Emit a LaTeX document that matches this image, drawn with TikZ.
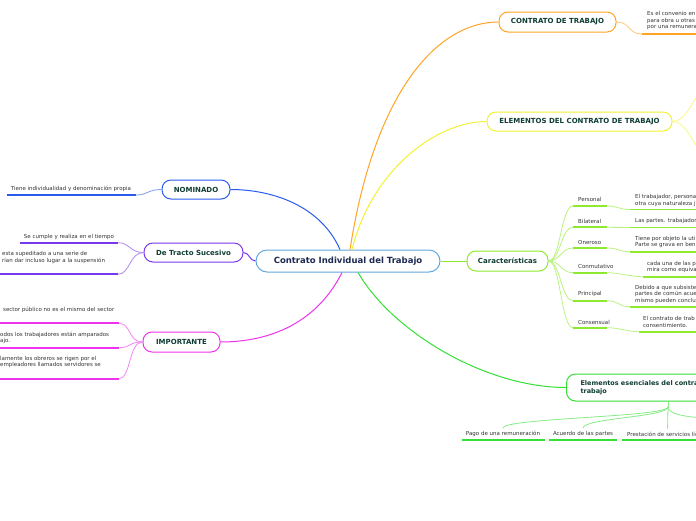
\documentclass[tikz,border=0pt]{standalone}
\usepackage{fontspec}
\setmainfont{DejaVu Sans}
\definecolor{cblue}{HTML}{62A8DE}
\definecolor{ink}{HTML}{1C2A52}
\definecolor{tgreen}{HTML}{0F3D33}
\definecolor{corange}{HTML}{FFA424}
\definecolor{cyellow}{HTML}{F2F235}
\definecolor{clime}{HTML}{8EEA2E}
\definecolor{cgreen}{HTML}{33E033}
\definecolor{cnavy}{HTML}{2A5BEE}
\definecolor{cpurple}{HTML}{7A38EE}
\definecolor{cpink}{HTML}{EE33EE}
\definecolor{leaf}{HTML}{333333}

\begin{document}
\begin{tikzpicture}[x=1pt,y=-1pt,
 m/.style={draw=#1,line width=1pt,fill=white,rounded corners=9pt,minimum height=19pt,text=tgreen,font=\fontsize{7}{8}\selectfont\bfseries},
 t/.style={text=leaf,font=\fontsize{5.5}{6.5}\selectfont,align=left,inner sep=0pt},
 u/.style={draw=#1,line width=1.7pt},
 c/.style={draw=#1,line width=1pt},
 l/.style={draw=#1!60,line width=0.8pt}]
\useasboundingbox (0,0) rectangle (696,520);
\clip (0,0) rectangle (696,520);
% main topics
\node[m=cblue,minimum width=184pt,minimum height=22pt,rounded corners=11pt,text=ink,font=\fontsize{8.5}{10}\selectfont\bfseries] (main) at (348,261) {Contrato Individual del Trabajo};
\node[m=corange,minimum width=117pt,minimum height=20pt] (ct) at (557.5,22) {CONTRATO DE TRABAJO};
\node[m=cyellow,minimum width=185pt] (el) at (579.5,121.5) {ELEMENTOS DEL CONTRATO DE TRABAJO};
\node[m=clime,minimum width=81pt,minimum height=20pt] (car) at (507.5,261) {Características};
\node[m=cgreen,anchor=west,minimum height=27pt,align=left,text width=150pt,inner xsep=14pt,font=\fontsize{6.5}{8}\selectfont\bfseries] (ee) at (566,387.5) {Elementos esenciales del contrato de\\trabajo};
\node[m=cnavy,minimum width=68pt] (nom) at (196,189.5) {NOMINADO};
\node[m=cpurple,minimum width=99pt] (dts) at (193.5,252.5) {De Tracto Sucesivo};
\node[m=cpink,minimum width=77pt,minimum height=20pt] (imp) at (181.5,342) {IMPORTANTE};
\draw[c=cnavy] ([xshift=-8pt]main.north) .. controls +(-20,-45) and +(40,0) .. (nom.east);
\draw[c=corange] ([xshift=2pt]main.north) .. controls +(25,-160) and +(-60,0) .. (ct.west);
\draw[c=cyellow] ([xshift=4pt]main.north) .. controls +(20,-80) and +(-50,0) .. (el.west);
\draw[c=cgreen] ([xshift=10pt]main.south) .. controls +(35,60) and +(-80,0) .. (ee.west);
\draw[c=cpink] ([xshift=-6pt]main.south) .. controls +(-25,50) and +(50,0) .. (imp.east);
\draw[c=cpurple] (main.west) .. controls +(-6,0) and +(6,0) .. (dts.east);
\draw[c=clime] (main.east) -- (car.west);
% NOMINADO
\node[t] (nom1) at (71,189) {Tiene individualidad y denominación propia};
\draw[u=cnavy] (7,195) -- (136,195) coordinate (nom1u);
\draw[l=cnavy] (nom.west) .. controls +(-14,0) and +(12,0) .. (nom1u);
% De Tracto Sucesivo
\node[t] (dts1) at (69,237.3) {Se cumple y realiza en el tiempo};
\draw[u=cpurple] (20,242.7) -- (118,242.7) coordinate (dts1u);
\node[t,anchor=west] (dts2) at (2,257.5) {esta supeditado a una serie de\\rían dar incluso lugar a la suspensión};
\draw[u=cpurple] (-5,274.3) -- (118,274.3) coordinate (dts2u);
\draw[l=cpurple] (dts.west) .. controls +(-14,0) and +(12,0) .. (dts1u);
\draw[l=cpurple] (dts.west) .. controls +(-14,0) and +(12,0) .. (dts2u);
% IMPORTANTE
\node[t,anchor=west] (imp1) at (3,310) {sector público no es el mismo del sector};
\draw[u=cpink] (-5,323.3) -- (119,323.3) coordinate (imp1u);
\node[t,anchor=west] (imp2) at (0,338) {odos los trabajadores están amparados\\ajo.};
\draw[u=cpink] (-5,347.7) -- (119,347.7) coordinate (imp2u);
\node[t,anchor=west] (imp3) at (0,362.2) {lamente los obreros se rigen por el\\ empleadores llamados servidores se};
\draw[u=cpink] (-5,378.7) -- (119,378.7) coordinate (imp3u);
\draw[l=cpink] (imp.west) .. controls +(-14,0) and +(12,0) .. (imp1u);
\draw[l=cpink] (imp.west) .. controls +(-14,0) and +(12,0) .. (imp2u);
\draw[l=cpink] (imp.west) .. controls +(-14,0) and +(12,0) .. (imp3u);
% CONTRATO DE TRABAJO
\node[t,anchor=west] (ct1) at (647,20.7) {Es el convenio en\\para obra u otras a\\por una remunera};
\draw[u=corange] (642,34) coordinate (ct1u) -- (712,34);
\draw[l=corange] (ct.east) .. controls +(14,0) and +(-14,0) .. (ct1u);
% ELEMENTOS DEL CONTRATO
\coordinate (el1) at (712,86); \coordinate (el2) at (712,157);
\draw[l=cyellow] (el.east) .. controls +(18,0) and +(-18,0) .. (el1);
\draw[l=cyellow] (el.east) .. controls +(18,0) and +(-18,0) .. (el2);
% Caracteristicas
\node[t,anchor=west] (p1) at (578,199) {Personal};
\draw[u=clime] (573,206) coordinate (p1a) -- (607,206) coordinate (p1b);
\node[t,anchor=west] (q1) at (635,200.5) {El trabajador, persona\\otra cuya naturaleza j};
\draw[u=clime] (630,209.5) coordinate (q1a) -- (712,209.5);
\node[t,anchor=west] (p2) at (578,221) {Bilateral};
\draw[u=clime] (573,227.3) coordinate (p2a) -- (607,227.3) coordinate (p2b);
\node[t,anchor=west] (q2) at (635,221) {Las partes. trabajador};
\draw[u=clime] (630,227.5) coordinate (q2a) -- (712,227.5);
\node[t,anchor=west] (p3) at (578,242) {Oneroso};
\draw[u=clime] (573,248) coordinate (p3a) -- (607,248) coordinate (p3b);
\node[t,anchor=west] (q3) at (635,242.2) {Tiene por objeto la uti\\Parte se grava en ben};
\draw[u=clime] (630,251.7) coordinate (q3a) -- (712,251.7);
\node[t,anchor=west] (p4) at (578,266) {Conmutativo};
\draw[u=clime] (573,272.7) coordinate (p4a) -- (607,272.7) coordinate (p4b);
\node[t,anchor=west] (q4) at (647,267.2) {cada una de las p\\mira como equiva};
\draw[u=clime] (642.7,276.7) coordinate (q4a) -- (712,276.7);
\node[t,anchor=west] (p5) at (578,294) {Principal};
\draw[u=clime] (573,300.7) coordinate (p5a) -- (607,300.7) coordinate (p5b);
\node[t,anchor=west] (q5) at (635,294) {Debido a que subsiste\\partes de común acue\\mismo pueden conclu};
\draw[u=clime] (630,306.7) coordinate (q5a) -- (712,306.7);
\node[t,anchor=west] (p6) at (578,322) {Consensual};
\draw[u=clime] (573,327.7) coordinate (p6a) -- (607,327.7) coordinate (p6b);
\node[t,anchor=west] (q6) at (643,321.8) {El contrato de trab\\consentimiento.};
\draw[u=clime] (639,331.7) coordinate (q6a) -- (712,331.7);
\draw[l=clime] (car.east) .. controls +(12,0) and +(-12,0) .. (p1a);
\draw[l=clime] (car.east) .. controls +(12,0) and +(-12,0) .. (p2a);
\draw[l=clime] (car.east) .. controls +(12,0) and +(-12,0) .. (p3a);
\draw[l=clime] (car.east) .. controls +(12,0) and +(-12,0) .. (p4a);
\draw[l=clime] (car.east) .. controls +(12,0) and +(-12,0) .. (p5a);
\draw[l=clime] (car.east) .. controls +(12,0) and +(-12,0) .. (p6a);
\draw[l=clime] (p1b) .. controls +(12,0) and +(-12,0) .. (q1a);
\draw[l=clime] (p2b) .. controls +(12,0) and +(-12,0) .. (q2a);
\draw[l=clime] (p3b) .. controls +(12,0) and +(-12,0) .. (q3a);
\draw[l=clime] (p4b) .. controls +(12,0) and +(-12,0) .. (q4a);
\draw[l=clime] (p5b) .. controls +(12,0) and +(-12,0) .. (q5a);
\draw[l=clime] (p6b) .. controls +(12,0) and +(-12,0) .. (q6a);
% Elementos esenciales
\coordinate (ees) at (668,407); \coordinate (b4) at (712,418);
\draw[l=cgreen] (ee.south -| ees) -- (ees);
\node[t] (b1) at (503,434) {Pago de una remuneración};
\draw[u=cgreen] (462,440) -- (545,440);
\node[t] (b2) at (583,434) {Acuerdo de las partes};
\draw[u=cgreen] (549,440) -- (617,440);
\node[t,anchor=west] (b3) at (627,434) {Prestación de servicios lícitos};
\draw[u=cgreen] (622,440) -- (712,440);
\draw[l=cgreen] (ees) .. controls +(0,10) and +(0,-10) .. ([yshift=3pt]b1.north);
\draw[l=cgreen] (ees) .. controls +(0,10) and +(0,-10) .. ([yshift=3pt]b2.north);
\draw[l=cgreen] (ees) .. controls +(0,10) and +(0,-10) .. ([yshift=3pt]b3.north);
\draw[l=cgreen] (ees) .. controls +(0,8) and +(-20,0) .. (b4);
\end{tikzpicture}
\end{document}
